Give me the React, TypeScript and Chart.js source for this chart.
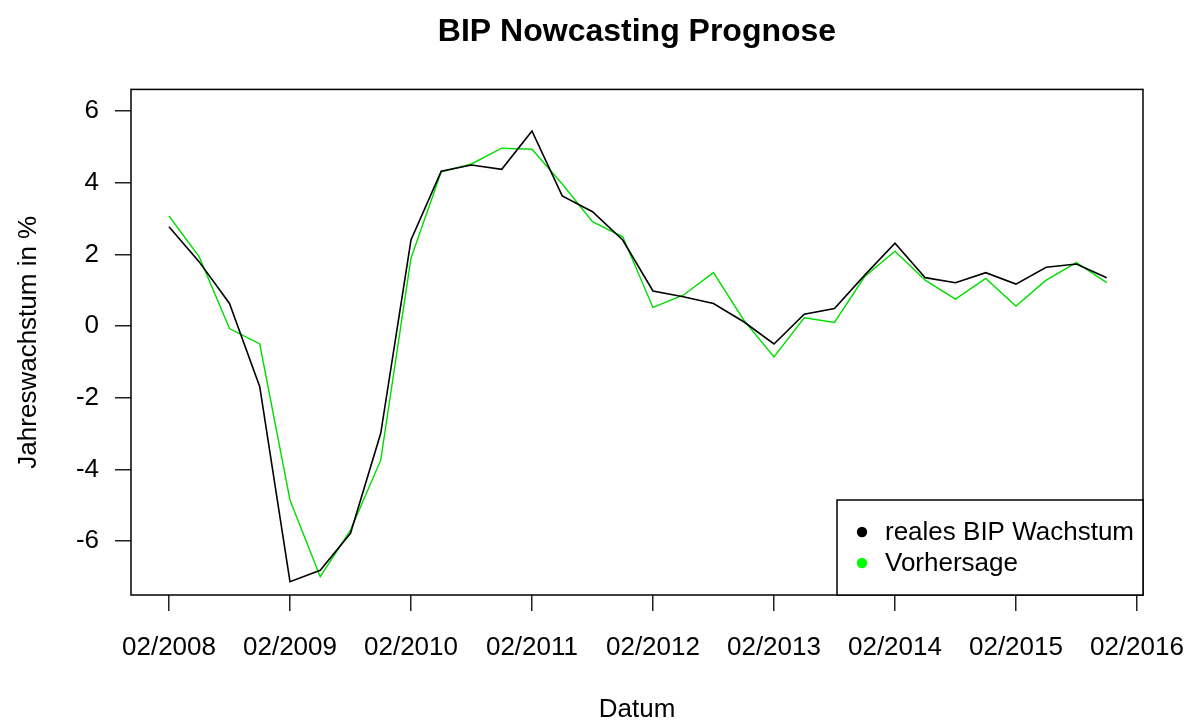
import React, { useEffect, useRef } from "react";
import { Chart, registerables } from "chart.js";

Chart.register(...registerables);

const quarterLabels = [
  "02/2008", "05/2008", "08/2008", "11/2008",
  "02/2009", "05/2009", "08/2009", "11/2009",
  "02/2010", "05/2010", "08/2010", "11/2010",
  "02/2011", "05/2011", "08/2011", "11/2011",
  "02/2012", "05/2012", "08/2012", "11/2012",
  "02/2013", "05/2013", "08/2013", "11/2013",
  "02/2014", "05/2014", "08/2014", "11/2014",
  "02/2015", "05/2015", "08/2015", "11/2015",
];

const realGrowth = [
  2.77, 1.79, 0.63, -1.69, -7.13, -6.81, -5.78, -2.99,
  2.4, 4.32, 4.49, 4.37, 5.44, 3.63, 3.19, 2.4,
  0.98, 0.82, 0.63, 0.12, -0.5, 0.33, 0.49, 1.42,
  2.31, 1.35, 1.21, 1.49, 1.17, 1.64, 1.73, 1.35,
];

const forecast = [
  3.07, 1.93, -0.07, -0.5, -4.85, -6.99, -5.69, -3.74,
  1.89, 4.3, 4.52, 4.96, 4.93, 3.96, 2.91, 2.49,
  0.52, 0.86, 1.49, 0.17, -0.86, 0.23, 0.1, 1.38,
  2.09, 1.28, 0.75, 1.33, 0.56, 1.28, 1.77, 1.21,
];

const xTickLabels = [
  "02/2008", "02/2009", "02/2010", "02/2011", "02/2012",
  "02/2013", "02/2014", "02/2015", "02/2016",
];
const yTickValues = [-6, -4, -2, 0, 2, 4, 6];

const seriesNames = ["reales BIP Wachstum", "Vorhersage"];
const seriesColors = ["#000000", "#00dd00"];
const legendDotColors = ["#000000", "#00ff00"];

const FONT = "'Liberation Sans', Arial, sans-serif";

const boxAndLegend = {
  id: "boxAndLegend",
  afterDatasetsDraw(chart: any) {
    const { ctx, chartArea } = chart;
    const { left, top, right, bottom } = chartArea;
    ctx.save();
    ctx.strokeStyle = "#000";
    ctx.lineWidth = 1.5;
    ctx.strokeRect(left, top, right - left, bottom - top);

    // legend box (bottom right, inside plot)
    const lw = 306;
    const lh = 95;
    const lx = right - lw;
    const ly = bottom - lh;
    ctx.fillStyle = "#fff";
    ctx.fillRect(lx, ly, lw, lh);
    ctx.strokeRect(lx, ly, lw, lh);
    ctx.font = `26px ${FONT}`;
    ctx.textBaseline = "middle";
    ctx.textAlign = "left";
    seriesNames.forEach((name, i) => {
      const cy = ly + 32 + i * 31;
      ctx.beginPath();
      ctx.arc(lx + 25, cy, 5.2, 0, Math.PI * 2);
      ctx.fillStyle = legendDotColors[i];
      ctx.fill();
      ctx.fillStyle = "#000";
      ctx.fillText(name, lx + 48, cy + 1);
    });
    ctx.restore();
  },
};

export default function App() {
  const canvasRef = useRef<HTMLCanvasElement | null>(null);

  useEffect(() => {
    document.body.style.margin = "0";
    const canvas = canvasRef.current;
    if (!canvas) return;
    const chart = new Chart(canvas, {
      type: "line",
      data: {
        datasets: [
          {
            label: seriesNames[0],
            data: realGrowth.map((v, i) => ({ x: i, y: v })),
            borderColor: seriesColors[0],
            borderWidth: 1.6,
            pointRadius: 0,
            tension: 0,
          },
          {
            label: seriesNames[1],
            data: forecast.map((v, i) => ({ x: i, y: v })),
            borderColor: seriesColors[1],
            borderWidth: 1.4,
            pointRadius: 0,
            tension: 0,
          },
        ],
      },
      options: {
        responsive: false,
        animation: false,
        devicePixelRatio: 1,
        layout: { padding: { left: 0, right: 47, top: 0, bottom: -5 } },
        plugins: {
          legend: { display: false },
          tooltip: { enabled: false },
          title: {
            display: true,
            text: "BIP Nowcasting Prognose",
            fullSize: false,
            color: "#000",
            font: { family: FONT, size: 32, weight: "bold" },
            padding: { top: 13, bottom: 38 },
          },
        },
        scales: {
          x: {
            type: "linear",
            min: -1.256,
            max: 32.2,
            afterBuildTicks: (scale: any) => {
              scale.ticks = xTickLabels.map((_, i) => ({ value: i * 4 }));
            },
            afterFit: (scale: any) => {
              scale.height = 130;
              scale.paddingLeft = 0;
              scale.paddingRight = 0;
            },
            ticks: {
              autoSkip: false,
              maxRotation: 0,
              color: "#000",
              font: { family: FONT, size: 26 },
              padding: 21,
              callback: (_v: any, idx: number) => xTickLabels[idx],
            },
            grid: {
              drawOnChartArea: false,
              drawTicks: true,
              tickLength: 16,
              color: "#222",
              lineWidth: 1.5,
            },
            border: { display: false },
            title: {
              display: true,
              text: "Datum",
              color: "#000",
              font: { family: FONT, size: 26 },
              padding: { top: 0, bottom: 0 },
            },
          },
          y: {
            type: "linear",
            min: -7.5,
            max: 6.6,
            afterBuildTicks: (scale: any) => {
              scale.ticks = yTickValues.map((v) => ({ value: v }));
            },
            afterFit: (scale: any) => {
              scale.width = 131;
              scale.paddingTop = 0;
              scale.paddingBottom = 0;
            },
            ticks: {
              color: "#000",
              font: { family: FONT, size: 26 },
              padding: 16,
              callback: (v: any) => String(v),
            },
            grid: {
              drawOnChartArea: false,
              drawTicks: true,
              tickLength: 16,
              color: "#222",
              lineWidth: 1.5,
            },
            border: { display: false },
            title: {
              display: true,
              text: "Jahreswachstum in %",
              color: "#000",
              font: { family: FONT, size: 26 },
              padding: { top: 13, bottom: 0 },
            },
          },
        },
      },
      plugins: [boxAndLegend],
    });
    return () => chart.destroy();
  }, []);

  return (
    <canvas
      ref={canvasRef}
      width={1190}
      height={720}
      style={{ display: "block", width: "1190px", height: "720px" }}
    />
  );
}
